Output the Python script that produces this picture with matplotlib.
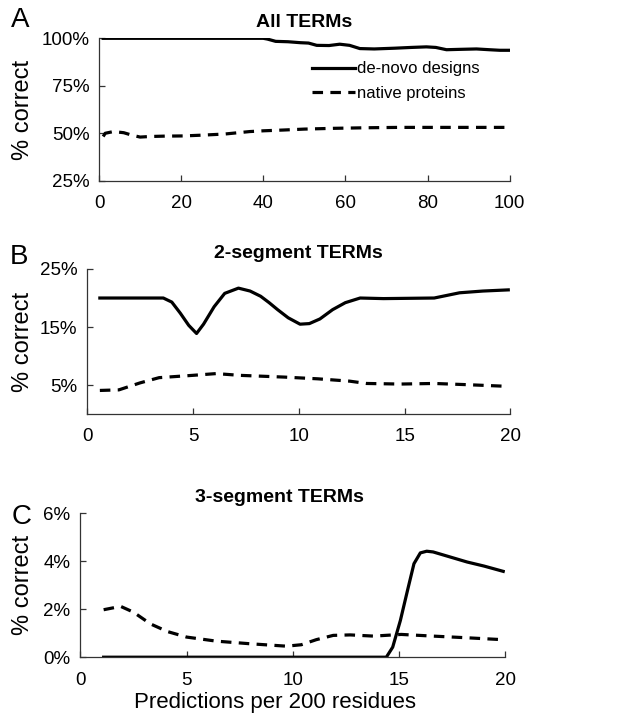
import matplotlib
matplotlib.use('Agg')
import matplotlib.pyplot as plt
from matplotlib.ticker import FuncFormatter

plt.rcParams['font.family'] = ['Liberation Sans', 'DejaVu Sans']

# Panel A: all TERMs
a_x_denovo = [1, 40, 41, 43, 46, 49, 51, 53, 56, 58.6, 61, 63.5, 67, 72, 76, 79.7, 82, 84.6, 88, 91.9, 95, 97.6, 100]
a_y_denovo = [100, 100, 99.6, 98.4, 98.2, 97.7, 97.5, 96.3, 96.2, 96.9, 96.3, 94.6, 94.4, 94.8, 95.2, 95.5, 95.2, 94.0, 94.2, 94.4, 94.0, 93.7, 93.7]
a_x_native = [1, 1.5, 3.5, 6, 8, 10, 12.4, 16, 20.5, 25, 30.6, 36.7, 40, 44.8, 50, 57, 65, 73, 80, 90, 99]
a_y_native = [48.3, 50.0, 50.9, 50.3, 49.0, 48.0, 48.3, 48.5, 48.6, 49.0, 49.6, 50.9, 51.3, 51.7, 52.2, 52.6, 52.9, 53.1, 53.1, 53.1, 53.1]

# Panel B: 2-segment TERMs
b_x_denovo = [0.6, 3.6, 4.0, 4.4, 4.8, 5.17, 5.5, 6.0, 6.5, 7.15, 7.7, 8.2, 8.6, 9.0, 9.5, 10.06, 10.5, 11.0, 11.6, 12.2, 12.9, 14.0, 16.4, 17.6, 18.7, 19.9]
b_y_denovo = [20.0, 20.0, 19.3, 17.4, 15.3, 13.9, 15.5, 18.5, 20.8, 21.7, 21.2, 20.3, 19.2, 18.0, 16.6, 15.5, 15.6, 16.4, 18.0, 19.2, 20.0, 19.9, 20.0, 20.9, 21.2, 21.4]
b_x_native = [0.6, 1.5, 2.5, 3.4, 5.0, 6.1, 7.2, 9.3, 10.9, 12.4, 13.2, 14.8, 16.4, 17.9, 19.9]
b_y_native = [4.1, 4.2, 5.4, 6.3, 6.7, 7.0, 6.7, 6.4, 6.1, 5.7, 5.3, 5.2, 5.3, 5.1, 4.8]

# Panel C: 3-segment TERMs
c_x_denovo = [1.1, 14.4, 14.7, 15.06, 15.4, 15.7, 16.0, 16.3, 16.6, 17.4, 18.2, 19.0, 19.9]
c_y_denovo = [0, 0, 0.42, 1.53, 2.8, 3.9, 4.35, 4.42, 4.39, 4.18, 3.97, 3.8, 3.58]
c_x_native = [1.1, 1.9, 2.5, 3.3, 4.1, 5.0, 6.4, 8.0, 9.7, 10.4, 11.1, 11.9, 12.7, 13.8, 15.1, 16.6, 18.2, 19.9]
c_y_native = [1.98, 2.12, 1.88, 1.39, 1.07, 0.84, 0.67, 0.56, 0.46, 0.52, 0.73, 0.91, 0.93, 0.88, 0.95, 0.88, 0.81, 0.73]

fig = plt.figure(figsize=(6.27, 7.23), dpi=100)

axA = fig.add_axes([0.158, 0.750, 0.655, 0.197])
axB = fig.add_axes([0.139, 0.427, 0.675, 0.201])
axC = fig.add_axes([0.128, 0.091, 0.678, 0.199])

pct = FuncFormatter(lambda v, p: '%d%%' % v)
lw = 2.3
dash = (3.3, 2.3)

def style(ax, title, ylx, tx=0.5):
    for s in ['top', 'right']:
        ax.spines[s].set_visible(False)
    for s in ['left', 'bottom']:
        ax.spines[s].set_linewidth(0.9)
        ax.spines[s].set_color('#333333')
    ax.tick_params(direction='in', length=4, width=0.9, labelsize=13.5, color='#333333')
    ax.tick_params(axis='x', pad=10)
    ax.tick_params(axis='y', pad=7)
    ax.yaxis.set_major_formatter(pct)
    ax.set_ylabel('% correct', fontsize=17)
    ax.yaxis.set_label_coords(ylx, 0.5)
    ax.set_title(title, fontsize=14, fontweight='bold', pad=8, x=tx)

axA.plot(a_x_denovo, a_y_denovo, color='black', lw=lw, label='de-novo designs')
axA.plot(a_x_native, a_y_native, color='black', lw=lw, dashes=dash, label='native proteins')
axA.set_xlim(0, 100)
axA.set_ylim(25, 100)
axA.set_xticks([0, 20, 40, 60, 80, 100])
axA.set_yticks([25, 50, 75, 100])
style(axA, 'All TERMs', -0.158)
axA.legend(loc='upper right', bbox_to_anchor=(0.944, 0.885), frameon=False, fontsize=12,
           handlelength=2.6, handletextpad=0.15, labelspacing=0.55, borderaxespad=0)

axB.plot(b_x_denovo, b_y_denovo, color='black', lw=lw)
axB.plot(b_x_native, b_y_native, color='black', lw=lw, dashes=dash)
axB.set_xlim(0, 20)
axB.set_ylim(0, 25)
axB.set_xticks([0, 5, 10, 15, 20])
axB.set_yticks([5, 15, 25])
style(axB, '2-segment TERMs', -0.125)

axC.plot(c_x_denovo, c_y_denovo, color='black', lw=lw)
axC.plot(c_x_native, c_y_native, color='black', lw=lw, dashes=dash)
axC.set_xlim(0, 20)
axC.set_ylim(0, 6)
axC.set_xticks([0, 5, 10, 15, 20])
axC.set_yticks([0, 2, 4, 6])
style(axC, '3-segment TERMs', -0.108, tx=0.468)
axC.tick_params(axis='x', pad=11)
axC.set_xlabel('Predictions per 200 residues', fontsize=16, labelpad=2)
axC.xaxis.label.set_x(0.459)

fig.text(0.018, 0.972, 'A', fontsize=20, va='center')
fig.text(0.015, 0.645, 'B', fontsize=20, va='center')
fig.text(0.018, 0.285, 'C', fontsize=20, va='center')

fig.savefig('out.png', dpi=100)
